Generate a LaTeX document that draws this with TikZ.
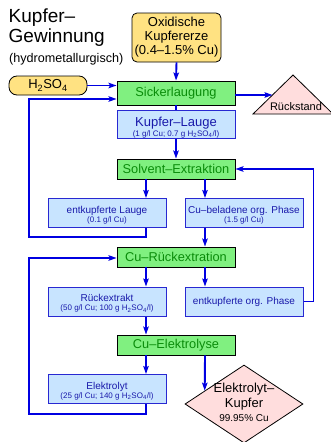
\documentclass[tikz,border=0pt]{standalone}
\usepackage{fontspec}
\setmainfont{Liberation Sans}
\usetikzlibrary{arrows.meta,shapes.geometric,calc}
\definecolor{yel}{RGB}{255,226,130}
\definecolor{grn}{RGB}{128,240,128}
\definecolor{grntxt}{RGB}{10,140,10}
\definecolor{bfill}{RGB}{200,228,255}
\definecolor{bdraw}{RGB}{40,40,210}
\definecolor{btxt}{RGB}{25,25,170}
\definecolor{arrc}{RGB}{0,0,225}
\definecolor{pinkc}{RGB}{255,221,221}
\newcommand\smalltxt{\fontsize{8}{8.5}\selectfont}
\begin{document}
\begin{tikzpicture}[x=1pt,y=-1pt,
  yelbox/.style={draw=black, fill=yel, rounded corners=5pt, line width=0.8pt, inner sep=0pt, align=center},
  greenbox/.style={draw=black, fill=grn, line width=0.9pt, minimum width=118pt, minimum height=20pt, inner sep=0pt, text=grntxt, font=\fontsize{12.8}{14}\selectfont},
  bluebox/.style={draw=bdraw, fill=bfill, line width=1pt, minimum width=118pt, minimum height=29pt, inner sep=0pt, text=btxt, align=center, font=\fontsize{10}{9}\selectfont},
  arr/.style={draw=arrc, line width=1.9pt, -{Stealth[length=8pt,width=5.5pt,inset=1.5pt]}},
  lnk/.style={draw=arrc, line width=1.9pt},
  pinkshape/.style={draw=black, fill=pinkc, line width=0.8pt},
  pinkdia/.style={pinkshape, diamond, minimum width=118pt, minimum height=78pt, inner sep=0pt}
]
\fill[white] (0,0) rectangle (330,442);
\useasboundingbox (0,0) rectangle (330,442);

% title
\node[anchor=base west, inner sep=0pt, font=\fontsize{19}{21}\selectfont] (t1) at (8.5,22) {Kupfer–};
\node[anchor=base west, inner sep=0pt, font=\fontsize{19}{21}\selectfont] (t2) at (8.5,42) {Gewinnung};
\node[anchor=base west, inner sep=0pt, font=\fontsize{12.6}{14}\selectfont] (t3) at (9,62) {(hydrometallurgisch)};

% nodes
\node[yelbox, minimum width=89pt, minimum height=49pt, font=\fontsize{13}{14}\selectfont] (ox) at (176.5,37.5) {Oxidische\\Kupfererze\\(0.4–1.5\% Cu)};
\node[yelbox, rounded corners=8pt, minimum width=78pt, minimum height=19pt, font=\fontsize{13}{14}\selectfont] (h2) at (48,85.5) {H\textsubscript{2}SO\textsubscript{4}};
\node[greenbox, minimum height=24pt] (sick) at (176,93) {Sickerlaugung};

\draw[pinkshape] (293,75) -- (333,114) -- (253,114) -- cycle;
\node[anchor=base, inner sep=0pt, font=\fontsize{11}{12}\selectfont] (rs) at (296,110) {Rückstand};
\coordinate (rsin) at (272.5,95);

\node[bluebox, minimum height=28pt, font=\fontsize{13}{10.2}\selectfont] (kl) at (176,124) {\rule{0pt}{16pt}Kupfer–Lauge\\{\smalltxt (1 g/l Cu; 0.7 g H\textsubscript{2}SO\textsubscript{4}/l)}};
\node[greenbox] (sx) at (176,169) {Solvent–Extraktion};

\node[bluebox] (el1) at (107,213) {\rule{0pt}{11pt}entkupferte Lauge\\{\smalltxt (0.1 g/l Cu)}};
\node[bluebox] (cbp) at (244,213) {\rule{0pt}{11pt}Cu–beladene org. Phase\\{\smalltxt (1.5 g/l Cu)}};

\node[greenbox] (crx) at (176,257) {Cu–Rückextration};

\node[bluebox] (rx) at (107,301.5) {\rule{0pt}{11pt}Rückextrakt\\{\smalltxt (50 g/l Cu; 100 g H\textsubscript{2}SO\textsubscript{4}/l)}};
\node[bluebox] (eop) at (244,301.5) {entkupferte org. Phase};

\node[greenbox] (cel) at (176,345) {Cu–Elektrolyse};

\node[bluebox] (ely) at (107,389) {\rule{0pt}{11pt}Elektrolyt\\{\smalltxt (25 g/l Cu; 140 g H\textsubscript{2}SO\textsubscript{4}/l)}};
\node[pinkdia] (kup) at (244,404) {};
\node[inner sep=0pt, align=center, font=\fontsize{13}{15}\selectfont] (kuptxt) at (244,402.8) {Elektrolyt–\\Kupfer\\[-1pt]{\fontsize{10}{11}\selectfont 99.95\% Cu}};

% column coordinates
\coordinate (cl) at (146,0);
\coordinate (cr) at (205,0);
\coordinate (lx1) at (29,99);
\coordinate (lx2) at (29,258);

% connectors
\draw[arr] (ox.south) -- (sick.north);
\draw[arr] (h2.east) -- (sick.west |- h2.east);
\draw[arr] (sick.east |- rsin) -- (rsin);
\draw[lnk] (sick.south) -- (kl.north);
\draw[arr] (kl.south) -- (sx.north);
\draw[arr] (sx.south -| cl) -- (el1.north -| cl);
\draw[arr] (sx.south -| cr) -- (cbp.north -| cr);
\draw[arr] (el1.south -| cl) -- ++(0,9) -| (lx1) -- (sick.west |- lx1);
\draw[arr] (cbp.south -| cr) -- (crx.north -| cr);
\draw[arr] (crx.south -| cl) -- (rx.north -| cl);
\draw[arr] (crx.south -| cr) -- (eop.north -| cr);
\draw[arr] (eop.east) -- ++(10,0) |- (sx.east);
\draw[arr] (rx.south -| cl) -- (cel.north -| cl);
\draw[arr] (cel.south -| cl) -- (ely.north -| cl);
\draw[arr] (cel.south -| cr) -- ($(kup.north)!0.661!(kup.west)$);
\draw[arr] (ely.south -| cl) -- ++(0,10) -| (lx2) -- (crx.west |- lx2);
\end{tikzpicture}
\end{document}
